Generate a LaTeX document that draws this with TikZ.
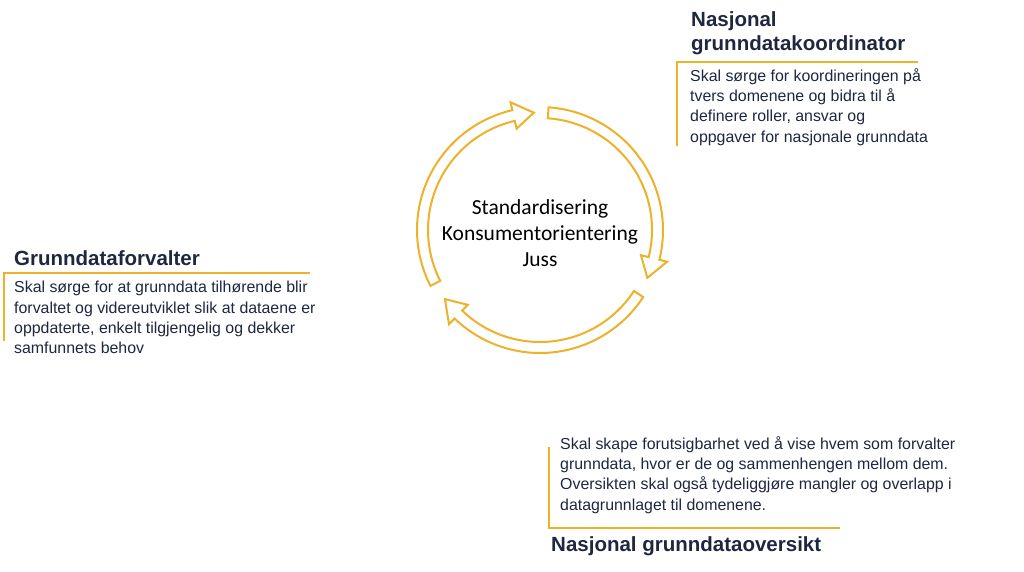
\documentclass[tikz,border=0pt]{standalone}
\usepackage{fontspec}
\setmainfont{Liberation Sans}
\newfontfamily\calfont{Carlito}
\definecolor{gold}{HTML}{EDB22A}
\definecolor{ink}{HTML}{1E2740}
\begin{document}
\begin{tikzpicture}[x=1pt,y=-1pt,
  title/.style={anchor=west,font=\fontsize{20.5}{24}\selectfont\bfseries,text=ink,inner sep=0,align=left},
  body/.style={anchor=north west,font=\fontsize{15.9}{20.4}\selectfont,text=ink,inner sep=0,align=left},
  acc/.style={draw=gold,line width=1.6pt},
  arr/.style={draw=gold,fill=white,line width=2pt,line join=miter}]
\useasboundingbox (0,0) rectangle (1024,571);
\def\cx{540}\def\cy{230}
\newcommand{\circarrow}[2]{% start angle, end angle (clockwise)
  \pgfmathsetmacro{\hb}{#2+10}
  \draw[arr] ({\cx+123*cos(#1)},{\cy-123*sin(#1)}) arc[start angle=-#1,end angle=-\hb,radius=123]
    -- ({\cx+131*cos(\hb)},{\cy-131*sin(\hb)})
    -- ({\cx+117.5*cos(#2)},{\cy-117.5*sin(#2)})
    -- ({\cx+104*cos(\hb)},{\cy-104*sin(\hb)})
    -- ({\cx+112*cos(\hb)},{\cy-112*sin(\hb)})
    arc[start angle=-\hb,end angle=-#1,radius=112] -- cycle;}
\circarrow{86}{-24}
\circarrow{-33}{-144}
\circarrow{207}{93}
\node[font=\calfont\fontsize{21.5}{26}\selectfont,align=center,inner sep=0] (c) at (\cx,233) {Standardisering\\Konsumentorientering\\Juss};
% top right
\node[title] (t1) at (691,33) {Nasjonal\\grunndatakoordinator};
\node[body] (b1) at (690,68) {Skal sørge for koordineringen på\\tvers domenene og bidra til å\\definere roller, ansvar og\\oppgaver for nasjonale grunndata};
\draw[acc] (918,62) -- (677,62) -- (677,146);
% left
\node[title] (t2) at (14,258) {Grunndataforvalter};
\node[body] (b2) at (14,281) {Skal sørge for at grunndata tilhørende blir\\forvaltet og videreutviklet slik at dataene er\\oppdaterte, enkelt tilgjengelig og dekker\\samfunnets behov};
\draw[acc] (310,273) -- (4,273) -- (4,341);
% bottom
\node[body] (b3) at (560,436) {Skal skape forutsigbarhet ved å vise hvem som forvalter\\grunndata, hvor er de og sammenhengen mellom dem.\\Oversikten skal også tydeliggjøre mangler og overlapp i\\datagrunnlaget til domenene.};
\draw[acc] (549,447) -- (549,528) -- (840,528);
\node[title] (t3) at (551,546) {Nasjonal grunndataoversikt};
\end{tikzpicture}
\end{document}
